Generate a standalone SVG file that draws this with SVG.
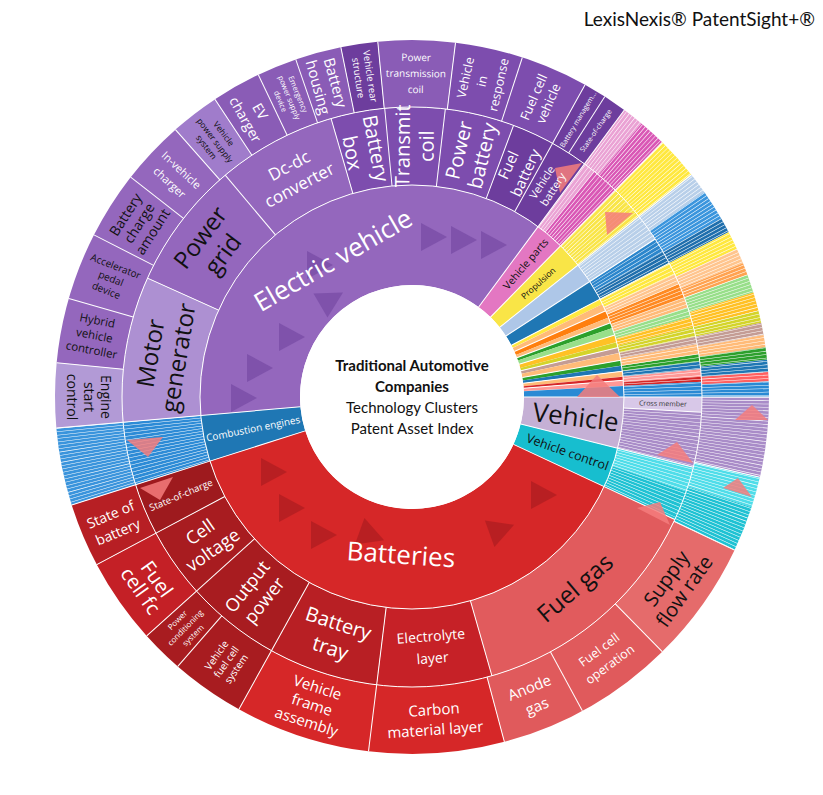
<svg xmlns="http://www.w3.org/2000/svg" xmlns:xlink="http://www.w3.org/1999/xlink" width="823" height="795" viewBox="0 0 823 795">
<style>
.s{fill:none}
.t{font-family:"Open Sans","DejaVu Sans",sans-serif;text-anchor:middle}
.c{font-family:Lato,"Open Sans",sans-serif;text-anchor:middle;font-size:15px;fill:#111}
.sep{stroke:#fff;stroke-width:1}
.pk{fill:#f47c7c;opacity:.85}
.dv{fill:#6a3d9a;opacity:.5}
.dr{fill:#a01a1e;opacity:.55}
</style>
<defs>
<line id="L1" x1="112" x2="212" y1="0" y2="0" class="sep"/>
<line id="L2" x1="212" x2="290" y1="0" y2="0" class="sep"/>
<line id="L3" x1="290" x2="357" y1="0" y2="0" class="sep"/>
<polygon id="tri" points="-11,-14 15,0 -11,14"/>
</defs>
<rect width="823" height="795" fill="#fff"/>
<text x="815" y="26" font-family="Lato,'Open Sans',sans-serif" font-size="19" text-anchor="end" fill="#111">LexisNexis® PatentSight+®</text>
<g id="sunburst" transform="translate(412 397)">
<g id="ring1">
<circle class="s" r="162" stroke-width="100" pathLength="360" stroke="#9467bd" stroke-dasharray="131.5 360" transform="rotate(175)"/>
<circle class="s" r="162" stroke-width="100" pathLength="360" stroke="#e377c2" stroke-dasharray="8 360" transform="rotate(306.5)"/>
<circle class="s" r="162" stroke-width="100" pathLength="360" stroke="#f9e547" stroke-dasharray="7 360" transform="rotate(314.5)"/>
<circle class="s" r="162" stroke-width="100" pathLength="360" stroke="#aec7e8" stroke-dasharray="5.5 360" transform="rotate(321.5)"/>
<circle class="s" r="162" stroke-width="100" pathLength="360" stroke="#1f77b4" stroke-dasharray="5.5 360" transform="rotate(327)"/>
<circle class="s" r="162" stroke-width="100" pathLength="360" stroke="#ffe83f" stroke-dasharray="1.5 360" transform="rotate(332.5)"/>
<circle class="s" r="162" stroke-width="100" pathLength="360" stroke="#ffbb78" stroke-dasharray="2 360" transform="rotate(334)"/>
<circle class="s" r="162" stroke-width="100" pathLength="360" stroke="#ff7f0e" stroke-dasharray="2 360" transform="rotate(336)"/>
<circle class="s" r="162" stroke-width="100" pathLength="360" stroke="#ffbb78" stroke-dasharray="1.5 360" transform="rotate(338)"/>
<circle class="s" r="162" stroke-width="100" pathLength="360" stroke="#2ca02c" stroke-dasharray="1.5 360" transform="rotate(339.5)"/>
<circle class="s" r="162" stroke-width="100" pathLength="360" stroke="#98df8a" stroke-dasharray="2 360" transform="rotate(341)"/>
<circle class="s" r="162" stroke-width="100" pathLength="360" stroke="#ffc125" stroke-dasharray="2 360" transform="rotate(343)"/>
<circle class="s" r="162" stroke-width="100" pathLength="360" stroke="#d4d42a" stroke-dasharray="1.5 360" transform="rotate(345)"/>
<circle class="s" r="162" stroke-width="100" pathLength="360" stroke="#c49c94" stroke-dasharray="1.5 360" transform="rotate(346.5)"/>
<circle class="s" r="162" stroke-width="100" pathLength="360" stroke="#ffbb78" stroke-dasharray="2 360" transform="rotate(348)"/>
<circle class="s" r="162" stroke-width="100" pathLength="360" stroke="#2ca02c" stroke-dasharray="1.5 360" transform="rotate(350)"/>
<circle class="s" r="162" stroke-width="100" pathLength="360" stroke="#1f77b4" stroke-dasharray="1.5 360" transform="rotate(351.5)"/>
<circle class="s" r="162" stroke-width="100" pathLength="360" stroke="#ffbb78" stroke-dasharray="1.5 360" transform="rotate(353)"/>
<circle class="s" r="162" stroke-width="100" pathLength="360" stroke="#d62728" stroke-dasharray="1 360" transform="rotate(354.5)"/>
<circle class="s" r="162" stroke-width="100" pathLength="360" stroke="#ff9896" stroke-dasharray="1.5 360" transform="rotate(355.5)"/>
<circle class="s" r="162" stroke-width="100" pathLength="360" stroke="#2a8ad4" stroke-dasharray="3 360" transform="rotate(357)"/>
<circle class="s" r="162" stroke-width="100" pathLength="360" stroke="#c5b0d5" stroke-dasharray="14 360" transform="rotate(0)"/>
<circle class="s" r="162" stroke-width="100" pathLength="360" stroke="#17becf" stroke-dasharray="11 360" transform="rotate(14)"/>
<circle class="s" r="162" stroke-width="100" pathLength="360" stroke="#d62728" stroke-dasharray="137.4 360" transform="rotate(25)"/>
<circle class="s" r="162" stroke-width="100" pathLength="360" stroke="#1f77b4" stroke-dasharray="12.6 360" transform="rotate(162.4)"/>
<circle class="s" r="162" stroke-width="100" pathLength="360" stroke="#fff" stroke-dasharray="0.2 1.3" stroke-dashoffset="-332.5" transform="rotate(0)" opacity="0.0"/>
</g>
<g id="ring2">
<circle class="s" r="251" stroke-width="78" pathLength="360" stroke="#eaa2d4" stroke-dasharray="2.5 360" transform="rotate(306.5)"/>
<circle class="s" r="251" stroke-width="78" pathLength="360" stroke="#d957b5" stroke-dasharray="5.5 360" transform="rotate(309)"/>
<circle class="s" r="251" stroke-width="78" pathLength="360" stroke="#f9e547" stroke-dasharray="7 360" transform="rotate(314.5)"/>
<circle class="s" r="251" stroke-width="78" pathLength="360" stroke="#b8cfe9" stroke-dasharray="5.5 360" transform="rotate(321.5)"/>
<circle class="s" r="251" stroke-width="78" pathLength="360" stroke="#2b86cc" stroke-dasharray="3 360" transform="rotate(327)"/>
<circle class="s" r="251" stroke-width="78" pathLength="360" stroke="#1f6fad" stroke-dasharray="2.5 360" transform="rotate(330)"/>
<circle class="s" r="251" stroke-width="78" pathLength="360" stroke="#ffe83f" stroke-dasharray="2.5 360" transform="rotate(332.5)"/>
<circle class="s" r="251" stroke-width="78" pathLength="360" stroke="#ffc58e" stroke-dasharray="2 360" transform="rotate(335)"/>
<circle class="s" r="251" stroke-width="78" pathLength="360" stroke="#ff8a22" stroke-dasharray="3 360" transform="rotate(337)"/>
<circle class="s" r="251" stroke-width="78" pathLength="360" stroke="#ffbb78" stroke-dasharray="2 360" transform="rotate(340)"/>
<circle class="s" r="251" stroke-width="78" pathLength="360" stroke="#98df8a" stroke-dasharray="2 360" transform="rotate(342)"/>
<circle class="s" r="251" stroke-width="78" pathLength="360" stroke="#ffc125" stroke-dasharray="2 360" transform="rotate(344)"/>
<circle class="s" r="251" stroke-width="78" pathLength="360" stroke="#d4d42a" stroke-dasharray="2 360" transform="rotate(346)"/>
<circle class="s" r="251" stroke-width="78" pathLength="360" stroke="#c49c94" stroke-dasharray="1.5 360" transform="rotate(348)"/>
<circle class="s" r="251" stroke-width="78" pathLength="360" stroke="#ffbb78" stroke-dasharray="2 360" transform="rotate(349.5)"/>
<circle class="s" r="251" stroke-width="78" pathLength="360" stroke="#2ca02c" stroke-dasharray="1.5 360" transform="rotate(351.5)"/>
<circle class="s" r="251" stroke-width="78" pathLength="360" stroke="#1f77b4" stroke-dasharray="1.5 360" transform="rotate(353)"/>
<circle class="s" r="251" stroke-width="78" pathLength="360" stroke="#ff9896" stroke-dasharray="1.5 360" transform="rotate(354.5)"/>
<circle class="s" r="251" stroke-width="78" pathLength="360" stroke="#d62728" stroke-dasharray="1 360" transform="rotate(356)"/>
<circle class="s" r="251" stroke-width="78" pathLength="360" stroke="#2a8ad4" stroke-dasharray="3 360" transform="rotate(357)"/>
<circle class="s" r="251" stroke-width="78" pathLength="360" stroke="#a98cc8" stroke-dasharray="14 360" transform="rotate(0)"/>
<circle class="s" r="251" stroke-width="78" pathLength="360" stroke="#4fdde9" stroke-dasharray="5 360" transform="rotate(14)"/>
<circle class="s" r="251" stroke-width="78" pathLength="360" stroke="#1fc2d3" stroke-dasharray="6 360" transform="rotate(19)"/>
<circle class="s" r="251" stroke-width="78" pathLength="360" stroke="#2d8bd6" stroke-dasharray="12.6 360" transform="rotate(162.4)"/>
<circle class="s" r="251" stroke-width="78" pathLength="360" stroke="#fff" stroke-dasharray="0.12 0.6"/>
<circle class="s" r="251" stroke-width="78" pathLength="360" stroke="#d8c8e8" stroke-dasharray="3 360" transform="rotate(0)"/>
<circle class="s" r="251" stroke-width="78" pathLength="360" stroke="#ad90d2" stroke-dasharray="29.2 360" transform="rotate(175)"/>
<circle class="s" r="251" stroke-width="78" pathLength="360" stroke="#9467bd" stroke-dasharray="49.6 360" transform="rotate(204.2)"/>
<circle class="s" r="251" stroke-width="78" pathLength="360" stroke="#7d4dae" stroke-dasharray="36.7 360" transform="rotate(253.8)"/>
<circle class="s" r="251" stroke-width="78" pathLength="360" stroke="#6d3d9d" stroke-dasharray="16 360" transform="rotate(290.5)"/>
<circle class="s" r="251" stroke-width="78" pathLength="360" stroke="#e15b5d" stroke-dasharray="49 360" transform="rotate(25)"/>
<circle class="s" r="251" stroke-width="78" pathLength="360" stroke="#c62127" stroke-dasharray="23 360" transform="rotate(74)"/>
<circle class="s" r="251" stroke-width="78" pathLength="360" stroke="#b81f24" stroke-dasharray="22 360" transform="rotate(97)"/>
<circle class="s" r="251" stroke-width="78" pathLength="360" stroke="#a81c20" stroke-dasharray="33 360" transform="rotate(119)"/>
<circle class="s" r="251" stroke-width="78" pathLength="360" stroke="#9e1a1e" stroke-dasharray="10.4 360" transform="rotate(152)"/>
</g>
<g id="ring3">
<circle class="s" r="323.5" stroke-width="67" pathLength="360" stroke="#eaa2d4" stroke-dasharray="3.5 360" transform="rotate(306.5)"/>
<circle class="s" r="323.5" stroke-width="67" pathLength="360" stroke="#d957b5" stroke-dasharray="4.5 360" transform="rotate(310)"/>
<circle class="s" r="323.5" stroke-width="67" pathLength="360" stroke="#ffe83f" stroke-dasharray="7 360" transform="rotate(314.5)"/>
<circle class="s" r="323.5" stroke-width="67" pathLength="360" stroke="#b8cfe9" stroke-dasharray="3.5 360" transform="rotate(321.5)"/>
<circle class="s" r="323.5" stroke-width="67" pathLength="360" stroke="#3a95dd" stroke-dasharray="5 360" transform="rotate(325)"/>
<circle class="s" r="323.5" stroke-width="67" pathLength="360" stroke="#1f6fad" stroke-dasharray="2.5 360" transform="rotate(330)"/>
<circle class="s" r="323.5" stroke-width="67" pathLength="360" stroke="#ffe83f" stroke-dasharray="3 360" transform="rotate(332.5)"/>
<circle class="s" r="323.5" stroke-width="67" pathLength="360" stroke="#ffc58e" stroke-dasharray="2.5 360" transform="rotate(335.5)"/>
<circle class="s" r="323.5" stroke-width="67" pathLength="360" stroke="#ffa350" stroke-dasharray="2 360" transform="rotate(338)"/>
<circle class="s" r="323.5" stroke-width="67" pathLength="360" stroke="#98df8a" stroke-dasharray="3 360" transform="rotate(340)"/>
<circle class="s" r="323.5" stroke-width="67" pathLength="360" stroke="#ffc125" stroke-dasharray="3 360" transform="rotate(343)"/>
<circle class="s" r="323.5" stroke-width="67" pathLength="360" stroke="#d4d42a" stroke-dasharray="2 360" transform="rotate(346)"/>
<circle class="s" r="323.5" stroke-width="67" pathLength="360" stroke="#c49c94" stroke-dasharray="2 360" transform="rotate(348)"/>
<circle class="s" r="323.5" stroke-width="67" pathLength="360" stroke="#ffbb78" stroke-dasharray="2 360" transform="rotate(350)"/>
<circle class="s" r="323.5" stroke-width="67" pathLength="360" stroke="#2ca02c" stroke-dasharray="2 360" transform="rotate(352)"/>
<circle class="s" r="323.5" stroke-width="67" pathLength="360" stroke="#1f77b4" stroke-dasharray="2 360" transform="rotate(354)"/>
<circle class="s" r="323.5" stroke-width="67" pathLength="360" stroke="#ff6060" stroke-dasharray="1.5 360" transform="rotate(356)"/>
<circle class="s" r="323.5" stroke-width="67" pathLength="360" stroke="#2a8ad4" stroke-dasharray="2.5 360" transform="rotate(357.5)"/>
<circle class="s" r="323.5" stroke-width="67" pathLength="360" stroke="#a98cc8" stroke-dasharray="13 360" transform="rotate(0)"/>
<circle class="s" r="323.5" stroke-width="67" pathLength="360" stroke="#4fdde9" stroke-dasharray="5 360" transform="rotate(13)"/>
<circle class="s" r="323.5" stroke-width="67" pathLength="360" stroke="#1fc2d3" stroke-dasharray="7.4 360" transform="rotate(18)"/>
<circle class="s" r="323.5" stroke-width="67" pathLength="360" stroke="#3a94dc" stroke-dasharray="12.6 360" transform="rotate(162.4)"/>
<circle class="s" r="323.5" stroke-width="67" pathLength="360" stroke="#fff" stroke-dasharray="0.1 0.45"/>
<circle class="s" r="323.5" stroke-width="67" pathLength="360" stroke="#b29ad6" stroke-dasharray="10.5 360" transform="rotate(175)"/>
<circle class="s" r="323.5" stroke-width="67" pathLength="360" stroke="#9467bd" stroke-dasharray="43 360" transform="rotate(185.5)"/>
<circle class="s" r="323.5" stroke-width="67" pathLength="360" stroke="#a07ccb" stroke-dasharray="8 360" transform="rotate(228.5)"/>
<circle class="s" r="323.5" stroke-width="67" pathLength="360" stroke="#8a5cb6" stroke-dasharray="22 360" transform="rotate(236.5)"/>
<circle class="s" r="323.5" stroke-width="67" pathLength="360" stroke="#6d3d9d" stroke-dasharray="6 360" transform="rotate(258.5)"/>
<circle class="s" r="323.5" stroke-width="67" pathLength="360" stroke="#8a5cb6" stroke-dasharray="12.5 360" transform="rotate(264.5)"/>
<circle class="s" r="323.5" stroke-width="67" pathLength="360" stroke="#7d4dae" stroke-dasharray="22 360" transform="rotate(277)"/>
<circle class="s" r="323.5" stroke-width="67" pathLength="360" stroke="#6d3d9d" stroke-dasharray="7.5 360" transform="rotate(299)"/>
<circle class="s" r="323.5" stroke-width="67" pathLength="360" stroke="#e56b6b" stroke-dasharray="20.1 360" transform="rotate(25.4)"/>
<circle class="s" r="323.5" stroke-width="67" pathLength="360" stroke="#e05a5c" stroke-dasharray="29.5 360" transform="rotate(45.5)"/>
<circle class="s" r="323.5" stroke-width="67" pathLength="360" stroke="#d62728" stroke-dasharray="44 360" transform="rotate(75)"/>
<circle class="s" r="323.5" stroke-width="67" pathLength="360" stroke="#a81c20" stroke-dasharray="19 360" transform="rotate(119)"/>
<circle class="s" r="323.5" stroke-width="67" pathLength="360" stroke="#c42026" stroke-dasharray="14 360" transform="rotate(138)"/>
<circle class="s" r="323.5" stroke-width="67" pathLength="360" stroke="#b71f24" stroke-dasharray="10.4 360" transform="rotate(152)"/>
</g>
<g id="connectors">
<use href="#L1" transform="rotate(175)"/><use href="#L1" transform="rotate(306.5)"/><use href="#L1" transform="rotate(314.5)"/><use href="#L1" transform="rotate(321.5)"/><use href="#L1" transform="rotate(327)"/><use href="#L1" transform="rotate(332.5)"/><use href="#L1" transform="rotate(336)"/><use href="#L1" transform="rotate(339.5)"/><use href="#L1" transform="rotate(343)"/><use href="#L1" transform="rotate(346.5)"/><use href="#L1" transform="rotate(350)"/><use href="#L1" transform="rotate(353)"/><use href="#L1" transform="rotate(355.5)"/><use href="#L1" transform="rotate(0)"/><use href="#L1" transform="rotate(14)"/><use href="#L1" transform="rotate(25)"/><use href="#L1" transform="rotate(162.4)"/>
<use href="#L2" transform="rotate(175)"/><use href="#L2" transform="rotate(204.2)"/><use href="#L2" transform="rotate(229.9)"/><use href="#L2" transform="rotate(253.8)"/><use href="#L2" transform="rotate(264.6)"/><use href="#L2" transform="rotate(276.6)"/><use href="#L2" transform="rotate(290.5)"/><use href="#L2" transform="rotate(299)"/><use href="#L2" transform="rotate(306.5)"/><use href="#L2" transform="rotate(314.5)"/><use href="#L2" transform="rotate(321.5)"/><use href="#L2" transform="rotate(327)"/><use href="#L2" transform="rotate(332.5)"/><use href="#L2" transform="rotate(0)"/><use href="#L2" transform="rotate(3)"/><use href="#L2" transform="rotate(14)"/><use href="#L2" transform="rotate(25)"/><use href="#L2" transform="rotate(74)"/><use href="#L2" transform="rotate(97)"/><use href="#L2" transform="rotate(119)"/><use href="#L2" transform="rotate(138)"/><use href="#L2" transform="rotate(152)"/><use href="#L2" transform="rotate(162.4)"/>
<use href="#L3" transform="rotate(175)"/><use href="#L3" transform="rotate(185.5)"/><use href="#L3" transform="rotate(196)"/><use href="#L3" transform="rotate(207)"/><use href="#L3" transform="rotate(218)"/><use href="#L3" transform="rotate(228.5)"/><use href="#L3" transform="rotate(236.5)"/><use href="#L3" transform="rotate(244.5)"/><use href="#L3" transform="rotate(251)"/><use href="#L3" transform="rotate(258.5)"/><use href="#L3" transform="rotate(264.5)"/><use href="#L3" transform="rotate(277)"/><use href="#L3" transform="rotate(288)"/><use href="#L3" transform="rotate(299)"/><use href="#L3" transform="rotate(302.7)"/><use href="#L3" transform="rotate(306.5)"/><use href="#L3" transform="rotate(314.5)"/><use href="#L3" transform="rotate(321.5)"/><use href="#L3" transform="rotate(0)"/><use href="#L3" transform="rotate(13)"/><use href="#L3" transform="rotate(25.4)"/><use href="#L3" transform="rotate(45.5)"/><use href="#L3" transform="rotate(61.5)"/><use href="#L3" transform="rotate(75)"/><use href="#L3" transform="rotate(97)"/><use href="#L3" transform="rotate(119)"/><use href="#L3" transform="rotate(131)"/><use href="#L3" transform="rotate(138)"/><use href="#L3" transform="rotate(152)"/><use href="#L3" transform="rotate(162.4)"/>
<circle r="212" fill="none" stroke="#fff" stroke-width="1"/>
<circle r="290" fill="none" stroke="#fff" stroke-width="1"/>
<circle r="112" fill="#fff"/>
</g>
</g>
<g id="triangles">
<use href="#tri" class="dv" transform="translate(432 237)"/>
<use href="#tri" class="dv" transform="translate(462 240)"/>
<use href="#tri" class="dv" transform="translate(492 245)"/>
<use href="#tri" class="dv" transform="translate(242 398)"/>
<use href="#tri" class="dv" transform="translate(258 368)"/>
<use href="#tri" class="dv" transform="translate(290 337)"/>
<use href="#tri" class="dv" transform="translate(330 300) rotate(-30)"/>
<use href="#tri" class="dv" transform="translate(318 265)"/>
<use href="#tri" class="dr" transform="translate(272 472)"/>
<use href="#tri" class="dr" transform="translate(290 508)"/>
<use href="#tri" class="dr" transform="translate(322 535)"/>
<use href="#tri" class="dr" transform="translate(370 535) rotate(20)"/>
<use href="#tri" class="dr" transform="translate(500 530) rotate(-20)"/>
<use href="#tri" class="dr" transform="translate(542 495)"/>
<polygon class="pk" points="577,397 597,375 620,397"/>
<polygon class="pk" points="735,420 752,405 768,420"/>
<polygon class="pk" points="657,455 677,442 693,463"/>
<polygon class="pk" points="723,488 738,478 752,497"/>
<polygon class="pk" points="637,508 660,502 670,525"/>
<polygon class="pk" points="127,440 163,437 148,457"/>
<polygon class="pk" points="140,488 173,477 160,500"/>
<polygon class="pk" points="555,168 582,163 560,193"/>
<polygon class="pk" points="605,212 633,213 607,235"/>
</g>
<g id="labels" transform="translate(412 397)">
<g id="n-ev"><text class="t" font-size="26" fill="#fff" transform="rotate(240) translate(158 0) rotate(-270)" dy="9.1">Electric vehicle</text></g>
<g id="n-vparts"><text class="t" font-size="10.5" fill="#111" transform="rotate(310.5) translate(175 0) rotate(-360)" dy="3.7">Vehicle parts</text></g>
<g id="n-prop"><text class="t" font-size="8.5" fill="#111" transform="rotate(318) translate(170 0) rotate(-360)" dy="3">Propulsion</text></g>
<g id="n-vehicle"><text class="t" font-size="26" fill="#111" transform="rotate(7) translate(165 0)" dy="9.1">Vehicle</text></g>
<g id="n-vctrl"><text class="t" font-size="12.5" fill="#111" transform="rotate(19.5) translate(165 0)" dy="4.4">Vehicle control</text></g>
<g id="n-batt"><text class="t" font-size="26" fill="#fff" transform="rotate(94) translate(158 0) rotate(-90)" dy="9.1">Batteries</text></g>
<g id="n-comb"><text class="t" font-size="10" fill="#fff" transform="rotate(168.7) translate(162 0) rotate(-180)" dy="3.5">Combustion engines</text></g>

<g id="n-mg"><text class="t" font-size="24" fill="#111" transform="rotate(189.5) translate(251 0) rotate(-270)"><tspan x="0" dy="-5.6">Motor</tspan><tspan x="0" dy="28">generator</tspan></text></g>
<g id="n-pg"><text class="t" font-size="24" fill="#111" transform="rotate(217) translate(251 0) rotate(-270)"><tspan x="0" dy="-5.6">Power</tspan><tspan x="0" dy="28">grid</tspan></text></g>
<g id="n-dc"><text class="t" font-size="17" fill="#fff" transform="rotate(242) translate(251 0) rotate(-270)"><tspan x="0" dy="-5">Dc-dc</tspan><tspan x="0" dy="22">converter</tspan></text></g>
<g id="n-bb"><text class="t" font-size="20" fill="#fff" transform="rotate(259) translate(251 0) rotate(-180)"><tspan x="0" dy="-5">Battery</tspan><tspan x="0" dy="24">box</tspan></text></g>
<g id="n-tc"><text class="t" font-size="20" fill="#fff" transform="rotate(270.6) translate(251 0) rotate(-360)"><tspan x="0" dy="-5">Transmit</tspan><tspan x="0" dy="24">coil</tspan></text></g>
<g id="n-pb"><text class="t" font-size="20" fill="#fff" transform="rotate(283.5) translate(251 0) rotate(-360)"><tspan x="0" dy="-5">Power</tspan><tspan x="0" dy="24">battery</tspan></text></g>
<g id="n-fb"><text class="t" font-size="15" fill="#fff" transform="rotate(294.7) translate(251 0) rotate(-360)"><tspan x="0" dy="-4.25">Fuel</tspan><tspan x="0" dy="19">battery</tspan></text></g>
<g id="n-vb"><text class="t" font-size="11" fill="#fff" transform="rotate(302.7) translate(251 0) rotate(-360)"><tspan x="0" dy="-2.65">Vehicle</tspan><tspan x="0" dy="13">battery</tspan></text></g>
<g id="n-fg"><text class="t" font-size="24" fill="#111" transform="rotate(49.5) translate(251 0) rotate(-90)" dy="8.4">Fuel gas</text></g>
<g id="n-el"><text class="t" font-size="14" fill="#fff" transform="rotate(85.5) translate(251 0) rotate(-90)"><tspan x="0" dy="-6.1">Electrolyte</tspan><tspan x="0" dy="22">layer</tspan></text></g>
<g id="n-bt"><text class="t" font-size="20" fill="#fff" transform="rotate(108) translate(251 0) rotate(-90)"><tspan x="0" dy="-6">Battery</tspan><tspan x="0" dy="26">tray</tspan></text></g>
<g id="n-op"><text class="t" font-size="18" fill="#fff" transform="rotate(128.5) translate(251 0) rotate(-180)"><tspan x="0" dy="-4.7">Output</tspan><tspan x="0" dy="22">power</tspan></text></g>
<g id="n-cv"><text class="t" font-size="18" fill="#fff" transform="rotate(145) translate(251 0) rotate(-180)"><tspan x="0" dy="-4.7">Cell</tspan><tspan x="0" dy="22">voltage</tspan></text></g>
<g id="n-soc2"><text class="t" font-size="9.5" fill="#fff" transform="rotate(157) translate(251 0) rotate(-180)" dy="3.3">State-of-charge</text></g>
<g id="n-cm"><text class="t" font-size="7" fill="#333" transform="rotate(1.5) translate(251 0)" dy="2.45">Cross member</text></g>

<g id="n-esc"><text class="t" font-size="14" fill="#111" transform="rotate(180) translate(323.5 0) rotate(-90)"><tspan x="0" dy="-12.1">Engine</tspan><tspan x="0" dy="17">start</tspan><tspan x="0" dy="17">control</tspan></text></g>
<g id="n-hvc"><text class="t" font-size="11.5" fill="#111" transform="rotate(191) translate(323.5 0) rotate(-180)"><tspan x="0" dy="-11">Hybrid</tspan><tspan x="0" dy="15">vehicle</tspan><tspan x="0" dy="15">controller</tspan></text></g>
<g id="n-apd"><text class="t" font-size="10" fill="#111" transform="rotate(201.5) translate(323.5 0) rotate(-180)"><tspan x="0" dy="-9.5">Accelerator</tspan><tspan x="0" dy="13">pedal</tspan><tspan x="0" dy="13">device</tspan></text></g>
<g id="n-bca"><text class="t" font-size="14" fill="#111" transform="rotate(212.5) translate(323.5 0) rotate(-270)"><tspan x="0" dy="-11.1">Battery</tspan><tspan x="0" dy="16">charge</tspan><tspan x="0" dy="16">amount</tspan></text></g>
<g id="n-ivc"><text class="t" font-size="11" fill="#fff" transform="rotate(223) translate(323.5 0) rotate(-180)"><tspan x="0" dy="-4.65">In-vehicle</tspan><tspan x="0" dy="17">charger</tspan></text></g>
<g id="n-vpss"><text class="t" font-size="8.5" fill="#111" transform="rotate(232.5) translate(323.5 0) rotate(-180)"><tspan x="0" dy="-8">Vehicle</tspan><tspan x="0" dy="11">power supply</tspan><tspan x="0" dy="11">system</tspan></text></g>
<g id="n-evc"><text class="t" font-size="14" fill="#fff" transform="rotate(240.5) translate(323.5 0) rotate(-180)"><tspan x="0" dy="-3.6">EV</tspan><tspan x="0" dy="17">charger</tspan></text></g>
<g id="n-epsd"><text class="t" font-size="7.5" fill="#fff" transform="rotate(247.7) translate(323.5 0) rotate(-180)"><tspan x="0" dy="-6.9">Emergency</tspan><tspan x="0" dy="9.5">power supply</tspan><tspan x="0" dy="9.5">device</tspan></text></g>
<g id="n-bh"><text class="t" font-size="15" fill="#fff" transform="rotate(254.7) translate(323.5 0) rotate(-180)"><tspan x="0" dy="-3.75">Battery</tspan><tspan x="0" dy="18">housing</tspan></text></g>
<g id="n-vrs"><text class="t" font-size="9.5" fill="#fff" transform="rotate(261.5) translate(323.5 0) rotate(-180)"><tspan x="0" dy="-2.7">Vehicle rear</tspan><tspan x="0" dy="12">structure</tspan></text></g>
<g id="n-ptc"><text class="t" font-size="10" fill="#fff" transform="rotate(270.7) translate(323.5 0) rotate(-270)"><tspan x="0" dy="-12.5">Power</tspan><tspan x="0" dy="16">transmission</tspan><tspan x="0" dy="16">coil</tspan></text></g>
<g id="n-vir"><text class="t" font-size="12.5" fill="#fff" transform="rotate(282.5) translate(323.5 0) rotate(-360)"><tspan x="0" dy="-12.6">Vehicle</tspan><tspan x="0" dy="17">in</tspan><tspan x="0" dy="17">response</tspan></text></g>
<g id="n-fcv"><text class="t" font-size="13" fill="#fff" transform="rotate(293.5) translate(323.5 0) rotate(-360)"><tspan x="0" dy="-3.45">Fuel cell</tspan><tspan x="0" dy="16">vehicle</tspan></text></g>
<g id="n-bm"><text class="t" font-size="7" fill="#fff" transform="rotate(300.9) translate(323.5 0) rotate(-360)" dy="2.45">Battery managem…</text></g>
<g id="n-soc3"><text class="t" font-size="7" fill="#fff" transform="rotate(304.6) translate(323.5 0) rotate(-360)" dy="2.45">State-of-charge</text></g>
<g id="n-sfr"><text class="t" font-size="20" fill="#111" transform="rotate(35.5) translate(323.5 0) rotate(-90)"><tspan x="0" dy="-4">Supply</tspan><tspan x="0" dy="22">flow rate</tspan></text></g>
<g id="n-fco"><text class="t" font-size="12.5" fill="#fff" transform="rotate(53.5) translate(323.5 0) rotate(-90)"><tspan x="0" dy="-4.6">Fuel cell</tspan><tspan x="0" dy="18">operation</tspan></text></g>
<g id="n-ag"><text class="t" font-size="15" fill="#fff" transform="rotate(68) translate(323.5 0) rotate(-90)"><tspan x="0" dy="-4.75">Anode</tspan><tspan x="0" dy="20">gas</tspan></text></g>
<g id="n-cml"><text class="t" font-size="15" fill="#fff" transform="rotate(86) translate(323.5 0) rotate(-90)"><tspan x="0" dy="-4.75">Carbon</tspan><tspan x="0" dy="20">material layer</tspan></text></g>
<g id="n-vfa"><text class="t" font-size="15" fill="#fff" transform="rotate(108) translate(323.5 0) rotate(-90)"><tspan x="0" dy="-12.75">Vehicle</tspan><tspan x="0" dy="18">frame</tspan><tspan x="0" dy="18">assembly</tspan></text></g>
<g id="n-vfs"><text class="t" font-size="10" fill="#fff" transform="rotate(125) translate(323.5 0) rotate(-180)"><tspan x="0" dy="-8.5">Vehicle</tspan><tspan x="0" dy="12">fuel cell</tspan><tspan x="0" dy="12">system</tspan></text></g>
<g id="n-pcs"><text class="t" font-size="8" fill="#fff" transform="rotate(134.5) translate(323.5 0) rotate(-180)"><tspan x="0" dy="-8.2">Power</tspan><tspan x="0" dy="11">conditioning</tspan><tspan x="0" dy="11">system</tspan></text></g>
<g id="n-fcf"><text class="t" font-size="20" fill="#fff" transform="rotate(144.5) translate(323.5 0) rotate(-90)"><tspan x="0" dy="-3">Fuel</tspan><tspan x="0" dy="20">cell fc</tspan></text></g>
<g id="n-sob"><text class="t" font-size="14" fill="#fff" transform="rotate(157) translate(323.5 0) rotate(-180)"><tspan x="0" dy="-4.6">State of</tspan><tspan x="0" dy="19">battery</tspan></text></g>
</g>
<g id="center">
<text class="c" x="412" y="371" font-weight="bold">Traditional Automotive</text>
<text class="c" x="412" y="392" font-weight="bold">Companies</text>
<text class="c" x="412" y="413">Technology Clusters</text>
<text class="c" x="412" y="434">Patent Asset Index</text>
</g>
</svg>
